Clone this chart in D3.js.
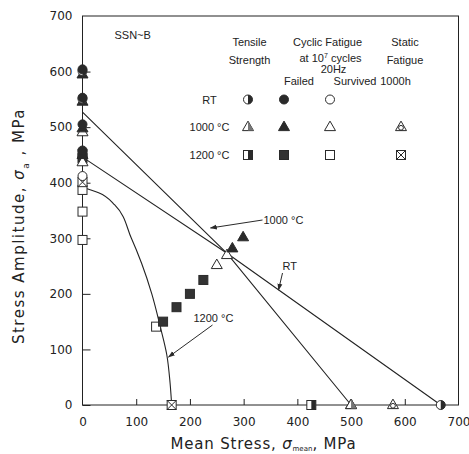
<!DOCTYPE html>
<html>
<head>
<meta charset="utf-8">
<script src="https://cdn.jsdelivr.net/npm/d3@7"></script>
<style>
  body { margin: 0; background: #fff; }
  text { font-family: "DejaVu Sans", sans-serif; fill: #222; }
  .lg { font-family: "Liberation Sans", sans-serif; font-size: 11px; }
</style>
</head>
<body>
<div id="chart"></div>
<script>
// axis ticks
const xTicks = [0, 100, 200, 300, 400, 500, 600, 700];
const yTicks = [0, 100, 200, 300, 400, 500, 600, 700];

// data points [mean stress, amplitude]
const rtTensile = [[0, 601], [0, 551], [667, 0]];
const rtFailed = [[0, 604], [0, 553], [0, 505], [0, 458]];
const rtSurvived = [[0, 412]];
const t1000Tensile = [[500, 0]];
const t1000Failed = [[0, 595], [0, 546], [0, 498], [0, 450], [279, 282], [299, 302]];
const t1000Survived = [[0, 491], [0, 437], [250, 252], [269, 270], [500, 0]];
const t1000Static = [[578, 0]];
const t1200Tensile = [[426, 0]];
const t1200Failed = [[0, 452], [0, 444], [150, 150], [175, 176], [200, 200], [225, 225]];
const t1200Survived = [[0, 387], [0, 348], [0, 297], [137, 141]];
const t1200Static = [[0, 401], [166, 0]];

// fitted lines
const line1000 = [[0, 527], [269, 273], [500, 0]];
const lineRT = [[0, 446], [269, 273], [667, 0]];
const curve1200 = [[0, 392], [30, 382], [60, 360], [91, 300], [110, 255], [129, 200], [145, 140], [157, 90], [163, 40], [166, 0]];

// legend
const legendRows = ["RT", "1000 °C", "1200 °C"];

const margin = {top: 16, right: 10.5, bottom: 49, left: 82.5};
const width = 469 - margin.left - margin.right;
const height = 454 - margin.top - margin.bottom;

const svg = d3.select("#chart").append("svg")
    .attr("width", 469)
    .attr("height", 454)
  .append("g")
    .attr("transform", `translate(${margin.left},${margin.top})`);

const x = d3.scaleLinear().domain([0, 700]).range([0, width]);
const y = d3.scaleLinear().domain([0, 700]).range([height, 0]);

// frame
svg.append("rect")
    .attr("x", 0).attr("y", 0)
    .attr("width", width).attr("height", height)
    .attr("fill", "none")
    .attr("stroke", "#222")
    .attr("stroke-width", 1);

// axes with inward ticks
const xAxis = svg.append("g")
    .attr("transform", `translate(0,${height})`)
    .call(d3.axisBottom(x).tickValues(xTicks).tickSize(-6).tickPadding(12));
const yAxis = svg.append("g")
    .call(d3.axisLeft(y).tickValues(yTicks).tickSize(-8).tickPadding(10));
[xAxis, yAxis].forEach(a => {
  a.select(".domain").remove();
  a.selectAll("line").attr("stroke", "#222");
  a.selectAll("text").style("font-size", "12px").attr("fill", "#222");
});
xAxis.selectAll(".tick").filter(d => d === 0 || d === 700).select("line").remove();
yAxis.selectAll(".tick").filter(d => d === 700).select("line").remove();

// axis titles
const yTitle = svg.append("text")
    .attr("transform", "rotate(-90)")
    .attr("x", -210)
    .attr("y", -59)
    .attr("text-anchor", "middle")
    .style("font-size", "15px")
    .style("letter-spacing", "1.5px");
yTitle.append("tspan").text("Stress Amplitude, ");
yTitle.append("tspan").style("font-style", "italic").text("σ");
yTitle.append("tspan").attr("baseline-shift", "sub").style("font-size", "9px").text("a");
yTitle.append("tspan").text(" ,  MPa");

const xTitle = svg.append("text")
    .attr("x", 181)
    .attr("y", height + 44)
    .attr("text-anchor", "middle")
    .style("font-size", "15px")
    .style("letter-spacing", "0.8px");
xTitle.append("tspan").text("Mean  Stress, ");
xTitle.append("tspan").style("font-style", "italic").text("σ");
xTitle.append("tspan").attr("dy", 2).style("font-size", "7px").style("letter-spacing", "0px").text("mean");
xTitle.append("tspan").attr("dy", -2).text(",  MPa");

// lines
const lineGen = d3.line().x(d => x(d[0])).y(d => y(d[1]));
const curveGen = d3.line().curve(d3.curveMonotoneY).x(d => x(d[0])).y(d => y(d[1]));
[line1000, lineRT].forEach(l => {
  svg.append("path").datum(l)
      .attr("d", lineGen)
      .attr("fill", "none").attr("stroke", "#222").attr("stroke-width", 1.1);
});
svg.append("path").datum(curve1200)
    .attr("d", curveGen)
    .attr("fill", "none").attr("stroke", "#222").attr("stroke-width", 1.1);

// marker drawing
const ink = "#2a2a2a";
function drawMarker(g, type, cx, cy) {
  const s = 4.5;
  if (type === "circleFilled") {
    g.append("circle").attr("cx", cx).attr("cy", cy).attr("r", s).attr("fill", ink).attr("stroke", ink);
  } else if (type === "circleOpen") {
    g.append("circle").attr("cx", cx).attr("cy", cy).attr("r", s).attr("fill", "#fff").attr("stroke", ink);
  } else if (type === "circleHalf") {
    g.append("circle").attr("cx", cx).attr("cy", cy).attr("r", s).attr("fill", "#fff").attr("stroke", ink);
    g.append("path")
        .attr("d", `M${cx},${cy - s}A${s},${s} 0 0 1 ${cx},${cy + s}Z`)
        .attr("fill", ink);
  } else if (type.startsWith("tri")) {
    const h = 9.5, w = 5.5;
    const pts = `${cx},${cy - h * 0.62} ${cx + w},${cy + h * 0.38} ${cx - w},${cy + h * 0.38}`;
    const fill = type === "triFilled" ? ink : "#fff";
    g.append("polygon").attr("points", pts).attr("fill", fill).attr("stroke", ink);
    if (type === "triHalf") {
      g.append("polygon")
          .attr("points", `${cx},${cy - h * 0.62} ${cx + w},${cy + h * 0.38} ${cx},${cy + h * 0.38}`)
          .attr("fill", "#777");
    } else if (type === "triStatic") {
      g.append("circle").attr("cx", cx).attr("cy", cy + 0.8).attr("r", 2.4)
          .attr("fill", "none").attr("stroke", ink);
    }
  } else if (type.startsWith("sq")) {
    const fill = type === "sqFilled" ? "#333" : "#fff";
    g.append("rect").attr("x", cx - s).attr("y", cy - s).attr("width", 2 * s).attr("height", 2 * s)
        .attr("fill", fill).attr("stroke", ink);
    if (type === "sqHalf") {
      g.append("rect").attr("x", cx).attr("y", cy - s).attr("width", s).attr("height", 2 * s).attr("fill", ink);
    } else if (type === "sqStatic") {
      g.append("path")
          .attr("d", `M${cx - s},${cy - s}L${cx + s},${cy + s}M${cx + s},${cy - s}L${cx - s},${cy + s}`)
          .attr("stroke", ink);
    }
  }
}

const seriesList = [
  {data: t1200Survived, type: "sqOpen"},
  {data: t1200Failed, type: "sqFilled"},
  {data: t1200Static, type: "sqStatic"},
  {data: t1200Tensile, type: "sqHalf"},
  {data: t1000Survived, type: "triOpen"},
  {data: t1000Failed, type: "triFilled"},
  {data: t1000Static, type: "triStatic"},
  {data: t1000Tensile, type: "triHalf"},
  {data: rtSurvived, type: "circleOpen"},
  {data: rtTensile, type: "circleHalf"},
  {data: rtFailed, type: "circleFilled"}
];
const markers = svg.append("g");
seriesList.forEach(s => {
  s.data.forEach(d => drawMarker(markers, s.type, x(d[0]), y(d[1])));
});

// arrows with labels
svg.append("defs").append("marker")
    .attr("id", "arrow")
    .attr("viewBox", "0 0 10 10")
    .attr("refX", 9).attr("refY", 5)
    .attr("markerWidth", 7).attr("markerHeight", 7)
    .attr("orient", "auto")
  .append("path").attr("d", "M0,1.5L10,5L0,8.5Z").attr("fill", ink);

function arrowLabel(label, lx, ly, tx, ty, fx, fy) {
  svg.append("line")
      .attr("x1", fx).attr("y1", fy).attr("x2", tx).attr("y2", ty)
      .attr("stroke", ink).attr("stroke-width", 1)
      .attr("marker-end", "url(#arrow)");
  svg.append("text").attr("class", "lg").attr("x", lx).attr("y", ly).text(label);
}
arrowLabel("1000 °C", 181, 208, 128, 212, 180, 204);
arrowLabel("RT", 200, 254, 196, 274, 200, 257);
arrowLabel("1200 °C", 111, 306, 86, 341, 130, 309);

// legend block
svg.append("text").attr("class", "lg").attr("x", 32).attr("y", 23).text("SSN~B");

const headers = [
  {x: 167, lines: ["Tensile", "Strength"], ys: [30, 48]},
  {x: 322.5, lines: ["Static", "Fatigue"], ys: [30, 48]}
];
headers.forEach(h => {
  h.lines.forEach((t, i) => {
    svg.append("text").attr("class", "lg").attr("x", h.x).attr("y", h.ys[i])
        .attr("text-anchor", "middle").text(t);
  });
});
svg.append("text").attr("class", "lg").attr("x", 245).attr("y", 30)
    .attr("text-anchor", "middle").text("Cyclic Fatigue");
const cyc = svg.append("text").attr("class", "lg").attr("x", 248).attr("y", 46)
    .attr("text-anchor", "middle");
cyc.append("tspan").text("at 10");
cyc.append("tspan").attr("dy", -4).style("font-size", "7px").text("7");
cyc.append("tspan").attr("dy", 4).text(" cycles");
svg.append("text").attr("class", "lg").attr("x", 251).attr("y", 57)
    .attr("text-anchor", "middle").text("20Hz");
[["Failed", 216.5], ["Survived", 272.5], ["1000h", 313]].forEach(([t, xx]) => {
  svg.append("text").attr("class", "lg").attr("x", xx).attr("y", 69)
      .attr("text-anchor", "middle").text(t);
});

const colX = [165.5, 201.5, 247.5, 318.5];
const rowY = [83.5, 111, 139];
const legendTypes = [
  ["circleHalf", "circleFilled", "circleOpen", null],
  ["triHalf", "triFilled", "triOpen", "triStatic"],
  ["sqHalf", "sqFilled", "sqOpen", "sqStatic"]
];
legendRows.forEach((r, i) => {
  svg.append("text").attr("class", "lg").attr("x", 127).attr("y", rowY[i] + 4)
      .attr("text-anchor", "middle").text(r);
  legendTypes[i].forEach((t, j) => {
    if (t) drawMarker(svg, t, colX[j], rowY[i]);
  });
});
</script>
</body>
</html>
